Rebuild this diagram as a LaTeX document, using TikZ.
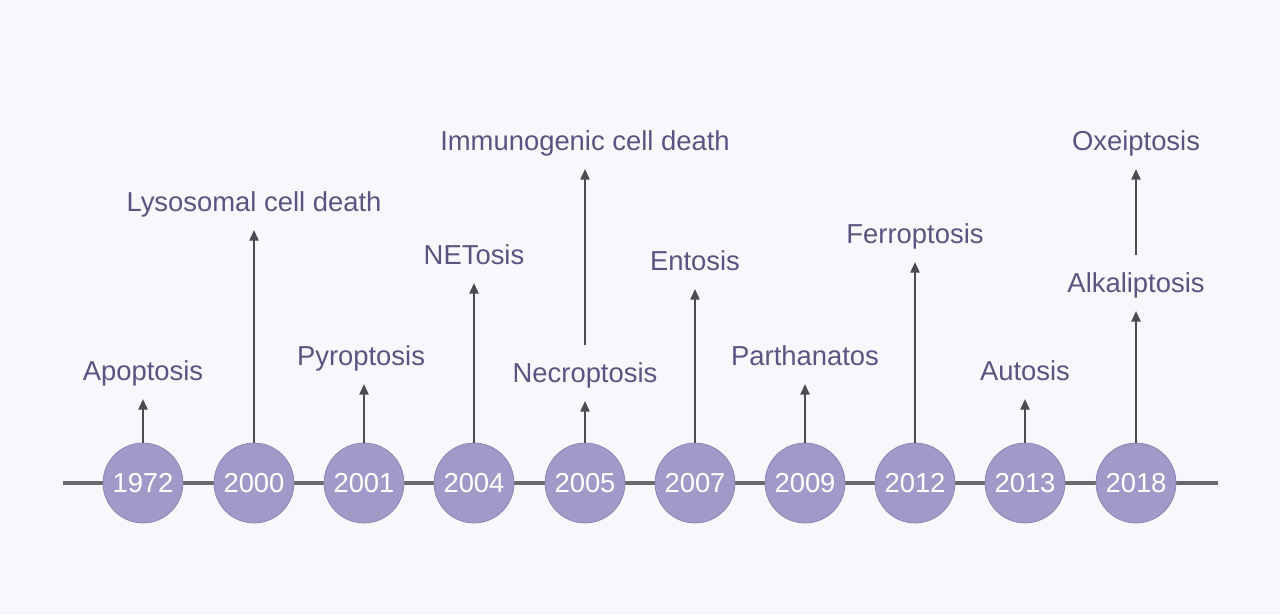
\documentclass[tikz,border=0pt]{standalone}
\usepackage{fontspec}
\setmainfont{Liberation Sans}
\usetikzlibrary{arrows.meta}
\definecolor{bgcol}{RGB}{248,248,252}
\definecolor{yearfill}{RGB}{163,153,200}
\definecolor{yearedge}{RGB}{138,128,178}
\definecolor{axiscol}{RGB}{108,104,114}
\definecolor{arrowcol}{RGB}{78,74,84}
\definecolor{labcol}{RGB}{90,84,128}
\begin{document}
\begin{tikzpicture}[x=0.02cm, y=-0.02cm,
  year/.style={circle, fill=yearfill, draw=yearedge, line width=0.4pt,
    minimum size=1.6cm, inner sep=0pt, text=white,
    font=\fontsize{15.6}{18}\selectfont},
  event/.style={text=labcol, font=\fontsize{15.6}{18}\selectfont,
    text height=11pt, text depth=0pt, inner xsep=2pt, inner ysep=0.36cm},
  up/.style={-{Triangle[length=0.21cm,width=0.18cm]}, line width=0.04cm, draw=arrowcol}]
  % background
  \fill[bgcol] (0,0) rectangle (1280,615);
  % time axis
  \coordinate (axL) at (63,483);
  \coordinate (axR) at (1218,483);
  \draw[axiscol, line width=0.08cm] (axL) -- (axR);
  % years
  \node[year] (y1972) at (143,483) {1972};
  \node[year] (y2000) at (254,483) {2000};
  \node[year] (y2001) at (364,483) {2001};
  \node[year] (y2004) at (474,483) {2004};
  \node[year] (y2005) at (585,483) {2005};
  \node[year] (y2007) at (695,483) {2007};
  \node[year] (y2009) at (805,483) {2009};
  \node[year] (y2012) at (915,483) {2012};
  \node[year] (y2013) at (1025,483) {2013};
  \node[year] (y2018) at (1136,483) {2018};
  % cell death types
  \node[event] (apop) at (143,371) {Apoptosis};
  \node[event] (lyso) at (254,202) {Lysosomal cell death};
  \node[event] (pyro) at (361,356) {Pyroptosis};
  \node[event] (neto) at (474,255) {NETosis};
  \node[event] (necr) at (585,373) {Necroptosis};
  \node[event] (immu) at (585,141) {Immunogenic cell death};
  \node[event] (ento) at (695,261) {Entosis};
  \node[event] (part) at (805,356) {Parthanatos};
  \node[event] (ferr) at (915,234) {Ferroptosis};
  \node[event] (auto) at (1025,371) {Autosis};
  \node[event] (alka) at (1136,283) {Alkaliptosis};
  \node[event] (oxei) at (1136,141) {Oxeiptosis};
  % arrows
  \draw[up] (y1972) -- (apop);
  \draw[up] (y2000) -- (lyso);
  \draw[up] (y2001) -- (y2001 |- pyro.south);
  \draw[up] (y2004) -- (neto);
  \draw[up] (y2005) -- (necr);
  \draw[up] (necr) -- (immu);
  \draw[up] (y2007) -- (ento);
  \draw[up] (y2009) -- (part);
  \draw[up] (y2012) -- (ferr);
  \draw[up] (y2013) -- (auto);
  \draw[up] (y2018) -- (alka);
  \draw[up] (alka) -- (oxei);
\end{tikzpicture}
\end{document}
